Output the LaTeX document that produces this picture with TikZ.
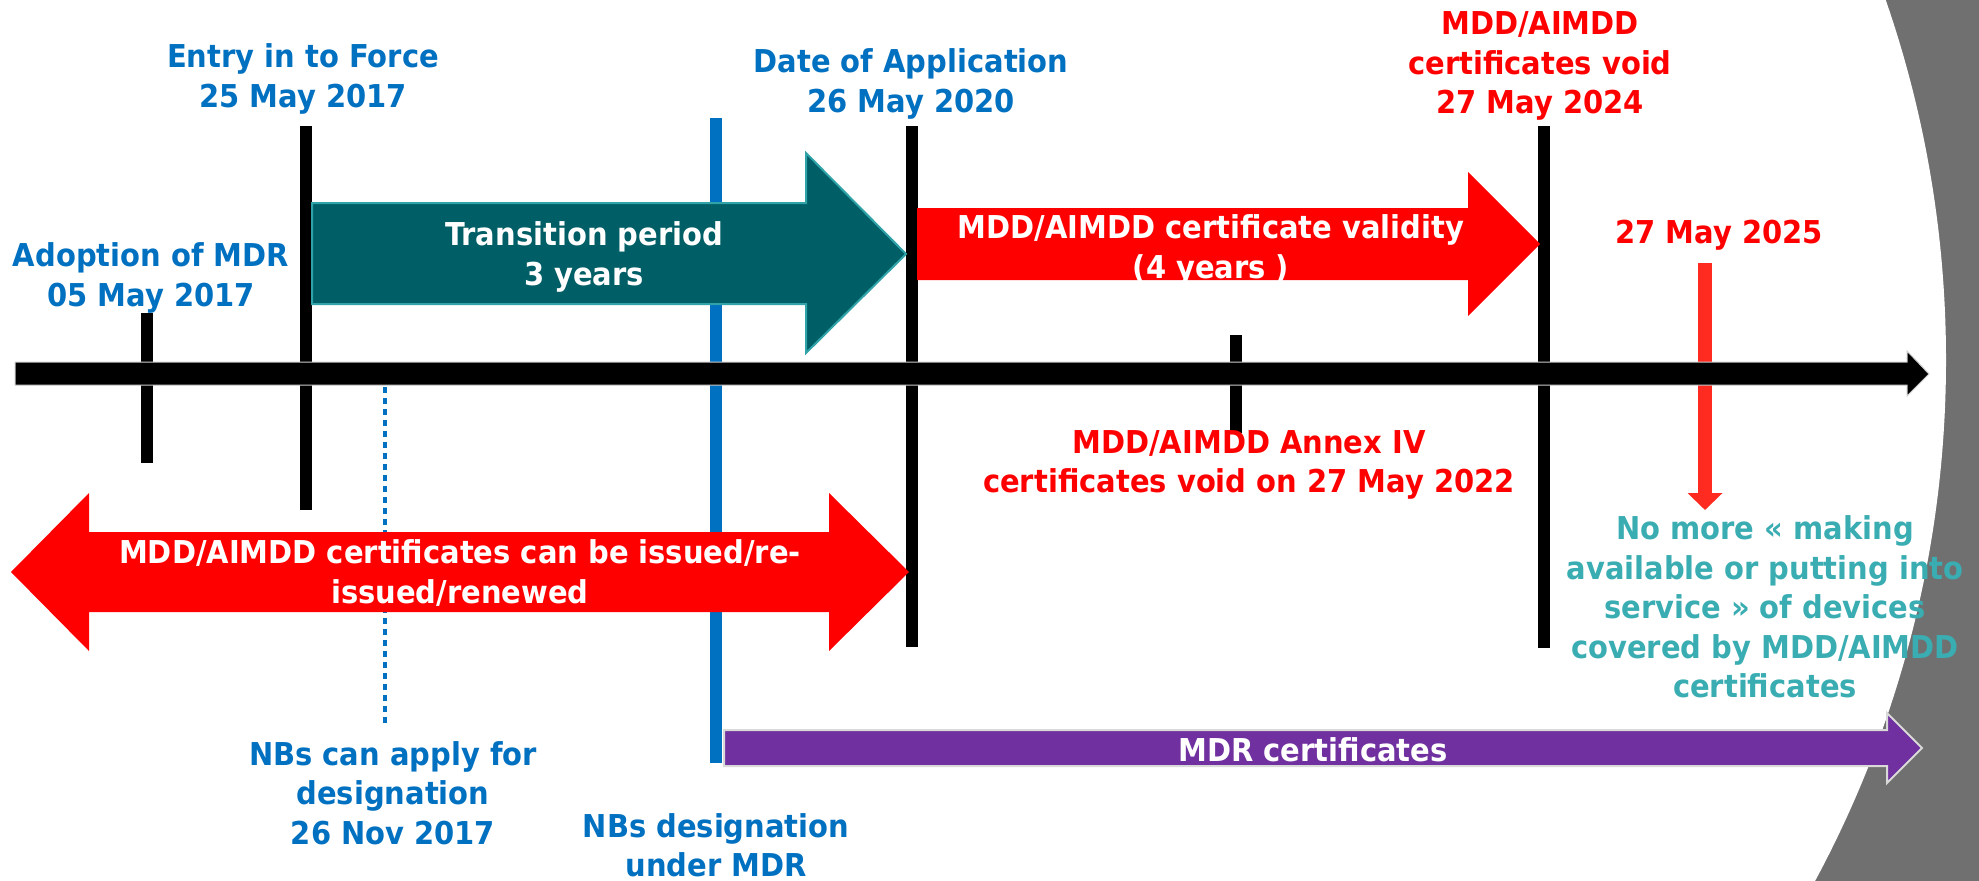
\documentclass[tikz,border=0pt]{standalone}
\usepackage{fontspec}
\setmainfont{DejaVu Sans}[FakeStretch=0.92]
\usetikzlibrary{arrows.meta, positioning}
\definecolor{mdrblue}{HTML}{0070C0}
\definecolor{mddred}{HTML}{FF0000}
\definecolor{arrowred}{HTML}{FF2A20}
\definecolor{transteal}{HTML}{005F66}
\definecolor{transedge}{HTML}{2FA3A8}
\definecolor{nomoreteal}{HTML}{3AADB2}
\definecolor{mdrpurple}{HTML}{7030A0}
\definecolor{slidegray}{HTML}{707070}
\tikzset{
  label text/.style={font=\fontsize{31.5}{39.5}\selectfont\bfseries, align=center, inner sep=0pt},
  blue label/.style={label text, text=mdrblue},
  red label/.style={label text, text=mddred},
  white label/.style={label text, text=white},
  teal label/.style={label text, text=nomoreteal},
  tick/.style={line width=12pt},
}

\begin{document}
\begin{tikzpicture}[x=1pt, y=-1pt]
	\useasboundingbox (0,0) rectangle (1979,881);
	\begin{scope}
		\clip (0,0) rectangle (1979,881);
		\fill[slidegray] (0,0) rectangle (1979,881);
		\fill[white] (846,360) circle (1100);
	\end{scope}

	\coordinate (a25top) at (1705,263);
	\coordinate (a25tip) at (1705,510);
	\draw[arrowred, line width=14pt, -{Triangle[width=34pt, length=17pt]}] (a25top) -- (a25tip);

	\draw[tick] (147,313) -- (147,463);
	\draw[tick] (306,126) -- (306,510);
	\draw[tick] (912,126) -- (912,647);
	\draw[tick] (1236,335) -- (1236,433);
	\draw[tick] (1544,126) -- (1544,648);
	\draw[tick, mdrblue] (716,118) -- (716,763);
	\draw[mdrblue, line width=4pt, dash pattern=on 6pt off 5pt] (385,387) -- (385,727);

	% time axis
	\fill[black, draw=black!20, line width=1pt] (15,362) -- (1907,362) -- (1907,351) -- (1929,374)
		-- (1907,396) -- (1907,385) -- (15,385) -- cycle;

	\fill[transteal, draw=transedge, line width=2pt] (312,203) -- (806,203) -- (806,153) -- (906,254)
		-- (806,353) -- (806,304) -- (312,304) -- cycle;
	\fill[mddred] (917,208) -- (1468,208) -- (1468,172) -- (1540,244)
		-- (1468,316) -- (1468,280) -- (917,280) -- cycle;
	\fill[mddred] (11,572) -- (89,493) -- (89,532) -- (829,532) -- (829,493) -- (909,572)
		-- (829,651) -- (829,612) -- (89,612) -- (89,651) -- cycle;
	\fill[mdrpurple, draw=black!15, line width=2pt] (724,730) -- (1887,730) -- (1887,713) -- (1922,748)
		-- (1887,783) -- (1887,766) -- (724,766) -- cycle;

	\node[blue label] (adopt) at (151,278) {Adoption of MDR\\05 May 2017};
	\node[blue label] (entry) at (303,79) {Entry in to Force\\25 May 2017};
	\node[blue label] (doa) at (911,84) {Date of Application\\26 May 2020};
	\node[red label] (void24) at (1540,66) {MDD/AIMDD\\certificates void\\27 May 2024};
	\node[red label] (may25) at (1719,235) {27 May 2025};
	\node[white label] (trans) at (584,257) {Transition period\\3 years};
	\node[white label] (valid) at (1211,250) {MDD/AIMDD certificate validity\\(4 years )};
	\node[red label] (annex) at (1249,465) {MDD/AIMDD Annex IV\\certificates void on 27 May 2022};
	\node[teal label] (nomore) at (1765,607) {No more « making\\available or putting into\\service » of devices\\covered by MDD/AIMDD\\certificates};
	\node[white label] (issued) at (460,573) {MDD/AIMDD certificates can be issued/re-\\issued/renewed};
	\node[blue label] (nbapply) at (393,793) {NBs can apply for\\designation\\26 Nov 2017};
	\node[blue label] (nbdesig) at (716,845) {NBs designation\\under MDR};
	\node[white label] (mdrcert) at (1313,750) {MDR certificates};
\end{tikzpicture}
\end{document}
